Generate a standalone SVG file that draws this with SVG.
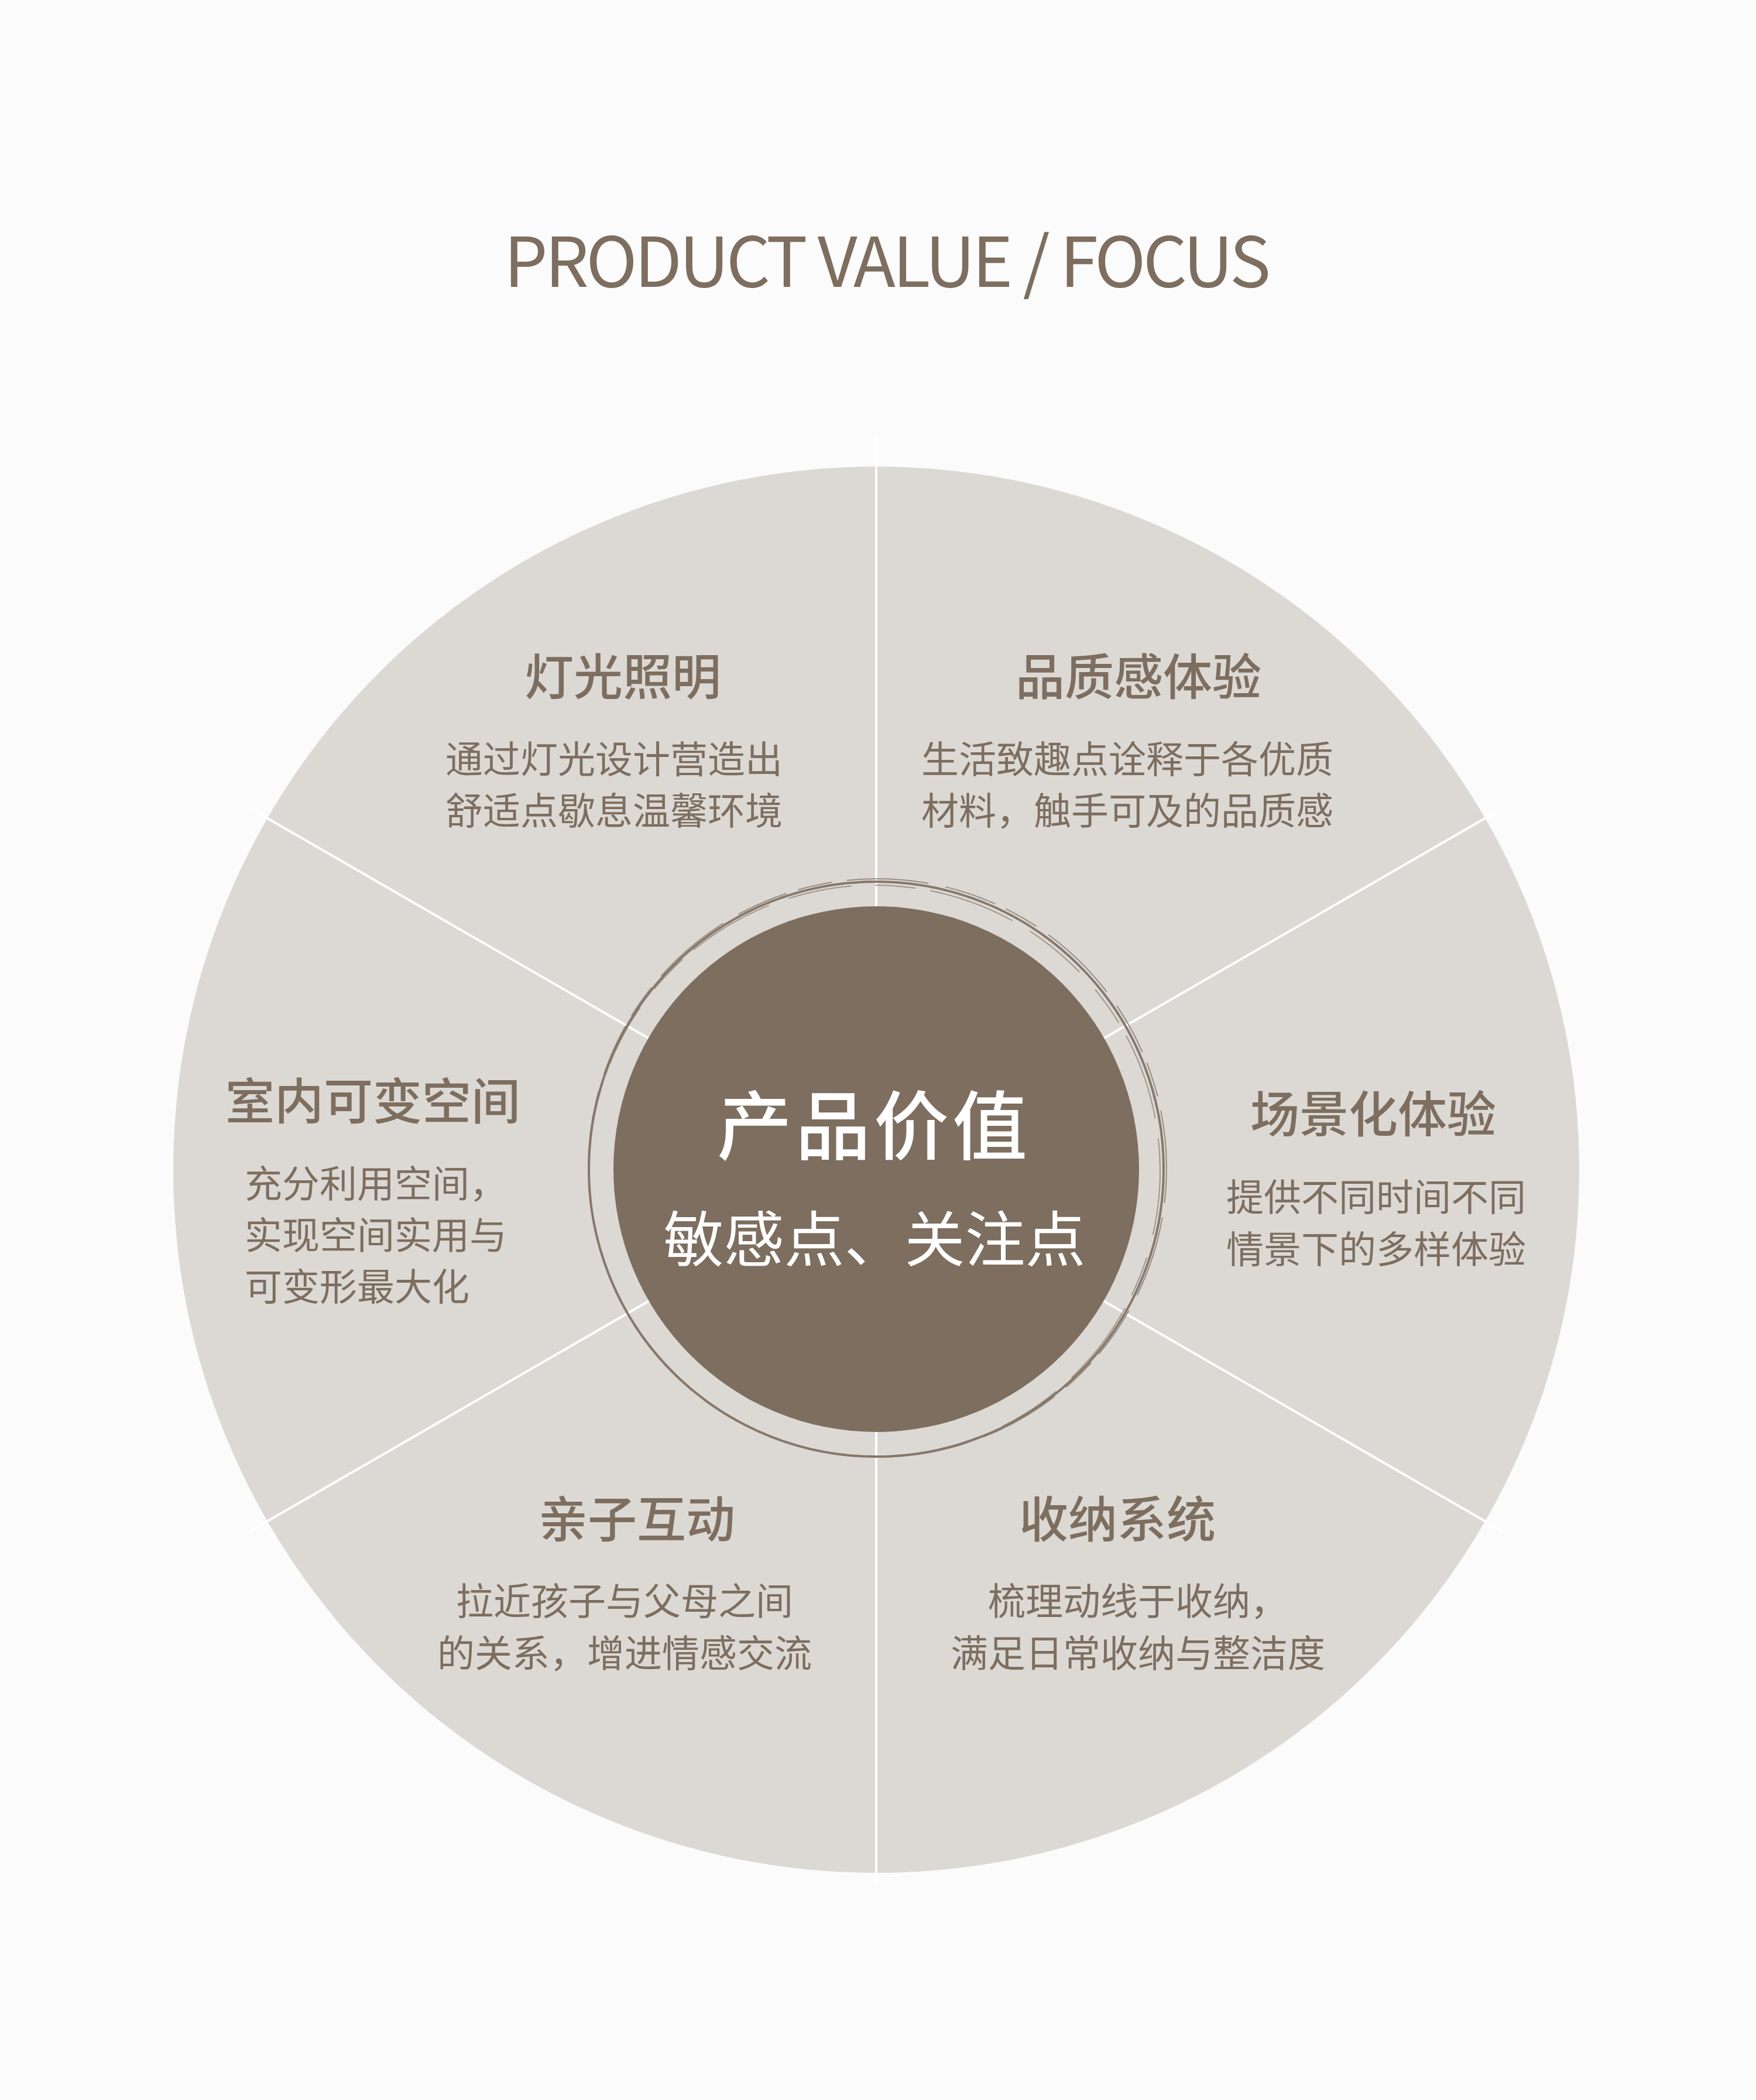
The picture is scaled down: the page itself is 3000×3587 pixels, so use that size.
<svg xmlns="http://www.w3.org/2000/svg" width="3000" height="3587" viewBox="0 0 3000 3587">
<style>
.bg{fill:#fbfbfb}
.disc{fill:#dcd9d5}
.core{fill:#7d6e5f}
.ring{fill:none;stroke:#86786b}
.div{stroke:#ffffff;stroke-width:4;stroke-linecap:butt}
.h{font-family:"Noto Sans CJK SC","Noto Sans",sans-serif;font-weight:500;font-size:84px;fill:#7d6e5f;text-anchor:middle}
.b{font-family:"Noto Sans CJK SC","Noto Sans",sans-serif;font-weight:400;font-size:64px;fill:#7d6e5f;text-anchor:middle}
.bl{text-anchor:start}
.c1{font-family:"Noto Sans CJK SC","Noto Sans",sans-serif;font-weight:500;font-size:128px;fill:#ffffff;text-anchor:middle;letter-spacing:6px}
.c2{font-family:"Noto Sans CJK SC","Noto Sans",sans-serif;font-weight:400;font-size:103px;fill:#ffffff;text-anchor:middle}
.t{font-family:"Noto Sans CJK SC","Noto Sans",sans-serif;font-weight:400;font-size:118px;fill:#7d6e5f;text-anchor:middle}
</style>
<rect class="bg" x="0" y="0" width="3000" height="3587"/>
<text class="t" x="1516" y="490" textLength="1310" lengthAdjust="spacing">PRODUCT VALUE / FOCUS</text>
<circle class="disc" cx="1497" cy="1998" r="1201"/>
<g id="dividers">
<line class="div" x1="1497" y1="1998" x2="1497" y2="746"/>
<line class="div" x1="1497" y1="1998" x2="1497" y2="3217"/>
<line class="div" x1="1497" y1="1998" x2="2566" y2="1381"/>
<line class="div" x1="1497" y1="1998" x2="428" y2="1381"/>
<line class="div" x1="1497" y1="1998" x2="2566" y2="2615"/>
<line class="div" x1="1497" y1="1998" x2="428" y2="2615"/>
</g>
<g id="center">
<circle class="ring" cx="1497" cy="1997" r="491" stroke-width="4"/>
<circle class="ring" cx="1499" cy="1995" r="494" stroke-width="2" stroke-dasharray="60 25 140 30 90 20" opacity="0.8"/>
<circle class="ring" cx="1494" cy="2000" r="488" stroke-width="2" stroke-dasharray="110 40 70 25 150 35" opacity="0.7"/>
<circle class="core" cx="1497" cy="1997" r="449"/>
<text class="c1" x="1493" y="1971">产品价值</text>
<text class="c2" x="1494" y="2155">敏感点、关注点</text>
</g>
<g id="node-lighting">
<text class="h" x="1064" y="1187">灯光照明</text>
<text class="b" x="1049" y="1320">通过灯光设计营造出</text>
<text class="b" x="1049" y="1408">舒适点歇息温馨环境</text>
</g>
<g id="node-quality">
<text class="h" x="1945" y="1187">品质感体验</text>
<text class="b" x="1926" y="1320">生活致趣点诠释于各优质</text>
<text class="b" x="1926" y="1408">材料，触手可及的品质感</text>
</g>
<g id="node-space">
<text class="h" x="637" y="1912">室内可变空间</text>
<text class="b bl" x="418" y="2045">充分利用空间，</text>
<text class="b bl" x="418" y="2133">实现空间实用与</text>
<text class="b bl" x="418" y="2221">可变形最大化</text>
</g>
<g id="node-scene">
<text class="h" x="2346" y="1934">场景化体验</text>
<text class="b" x="2351" y="2068">提供不同时间不同</text>
<text class="b" x="2351" y="2157">情景下的多样体验</text>
</g>
<g id="node-family">
<text class="h" x="1088" y="2626">亲子互动</text>
<text class="b" x="1067" y="2758">拉近孩子与父母之间</text>
<text class="b" x="1067" y="2847">的关系，增进情感交流</text>
</g>
<g id="node-storage">
<text class="h" x="1909" y="2626">收纳系统</text>
<text class="b" x="1944" y="2758">梳理动线于收纳，</text>
<text class="b" x="1944" y="2847">满足日常收纳与整洁度</text>
</g>
</svg>
